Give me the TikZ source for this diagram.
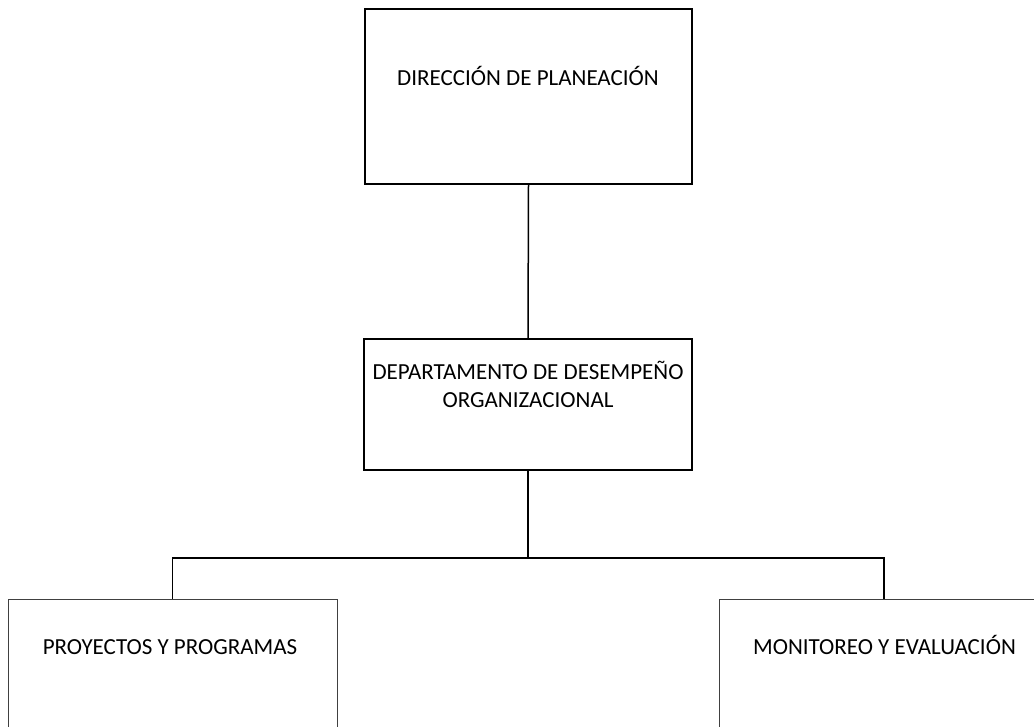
\documentclass[tikz,border=0pt]{standalone}
\usepackage{fontspec}
\setmainfont{Carlito}
\usepackage{tikz}
\usetikzlibrary{positioning, calc}

\begin{document}
\begin{tikzpicture}[x=1pt, y=-1pt,
    unitbox/.style={draw=black, line width=2pt, inner sep=0pt},
    subbox/.style={draw=black!75, line width=1pt, inner sep=0pt},
    boxtext/.style={anchor=base, inner sep=0pt, font=\fontsize{23}{28}\selectfont, align=center},
    link/.style={draw=black, line width=1.5pt}]
\useasboundingbox (0,0) rectangle (1034,727);
\clip (0,0) rectangle (1034,727);

% Boxes
\node[unitbox, minimum width=327pt, minimum height=175pt] (dirplan) at (528.5,96.5) {};
\node[unitbox, minimum width=328pt, minimum height=131pt] (depto) at (528,404.5) {};
\node[subbox, minimum width=329pt, minimum height=150pt] (proyectos) at (172.5,674) {};
\node[subbox, minimum width=330pt, minimum height=150pt] (monitoreo) at (884,674) {};

% Labels
\node[boxtext] (dirplan-txt) at (528,86) {DIRECCIÓN DE PLANEACIÓN};
\node[boxtext] (depto-txt) at (528,407) {DEPARTAMENTO DE DESEMPEÑO\\ORGANIZACIONAL};
\node[boxtext] (proyectos-txt) at (170,654) {PROYECTOS Y PROGRAMAS};
\node[boxtext] (monitoreo-txt) at (884.5,654) {MONITOREO Y EVALUACIÓN};

% Connectors
\coordinate (bus) at (528,558);
\draw[link] (dirplan.south) -- (depto.north);
\draw[link] (depto.south) -- (bus);
\draw[link] (proyectos.north) |- (bus) -| (monitoreo.north);
\end{tikzpicture}
\end{document}
